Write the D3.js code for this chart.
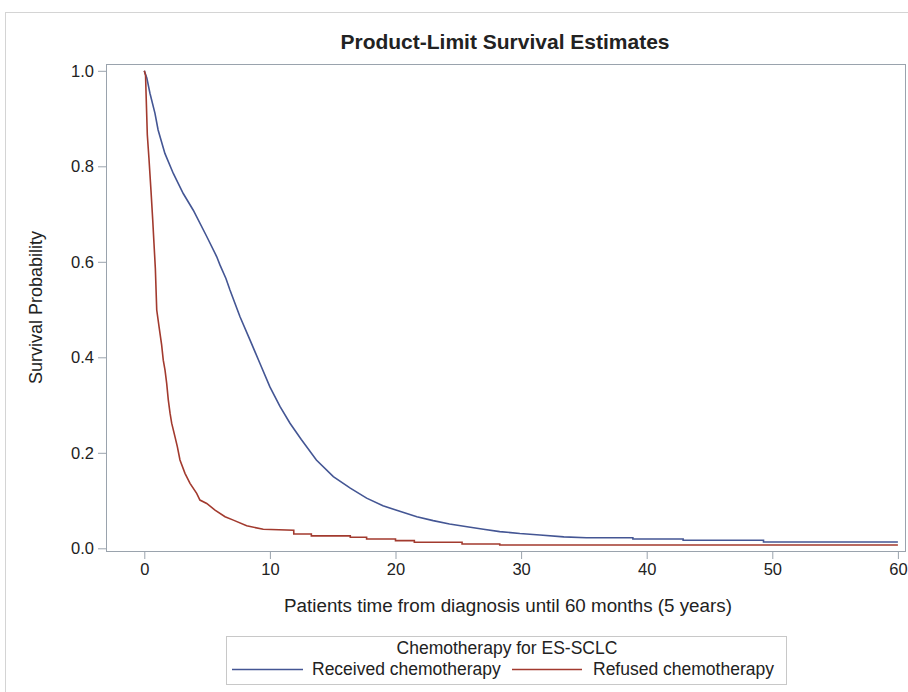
<!DOCTYPE html>
<html>
<head>
<meta charset="utf-8">
<script src="https://cdn.jsdelivr.net/npm/d3@7"></script>
<style>
  html, body { margin: 0; padding: 0; background: #fff; }
  svg { display: block; }
  text { font-family: "Liberation Sans", Arial, sans-serif; fill: #222; }
</style>
</head>
<body>
<svg id="chart" width="908" height="692"></svg>
<script>
// ---------- data ----------
const chartTitle = "Product-Limit Survival Estimates";
const xLabel = "Patients time from diagnosis until 60 months (5 years)";
const yLabel = "Survival Probability";
const legendTitle = "Chemotherapy for ES-SCLC";
const groups = ["Received chemotherapy", "Refused chemotherapy"];
const xTicks = [0, 10, 20, 30, 40, 50, 60];
const yTicks = [0.0, 0.2, 0.4, 0.6, 0.8, 1.0];

// Received chemotherapy (duplicate times mark visible steps)
const receivedTime = [0, 0.2, 0.45, 0.85, 1.1, 1.64, 2.31, 3.1, 3.9, 4.97, 5.76, 6.03, 6.5, 6.82, 7.62, 8.42, 9.21, 10.0, 10.8, 11.6, 12.5, 13.7, 15.05, 16.4, 17.7, 19.0, 20.4, 21.7, 23.0, 24.3, 25.7, 27.0, 28.3, 29.9, 31.5, 33.4, 35.2, 38.9, 38.9, 42.9, 42.9, 49.3, 49.3, 60];
const receivedSurv = [1.0, 0.985, 0.953, 0.911, 0.876, 0.827, 0.785, 0.743, 0.708, 0.653, 0.611, 0.593, 0.565, 0.541, 0.485, 0.436, 0.387, 0.338, 0.297, 0.262, 0.228, 0.185, 0.150, 0.126, 0.105, 0.089, 0.077, 0.066, 0.058, 0.051, 0.045, 0.040, 0.035, 0.031, 0.028, 0.024, 0.022, 0.022, 0.0195, 0.0195, 0.0168, 0.0168, 0.0132, 0.0132];

// Refused chemotherapy
const refusedTime = [0, 0.1, 0.14, 0.24, 0.37, 0.53, 0.67, 0.77, 0.88, 0.99, 1.19, 1.38, 1.51, 1.65, 1.78, 1.91, 2.05, 2.18, 2.44, 2.63, 2.84, 3.24, 3.64, 4.17, 4.43, 4.97, 5.63, 6.43, 7.09, 8.15, 9.47, 11.9, 11.9, 13.3, 13.3, 16.4, 16.4, 17.7, 17.7, 20.0, 20.0, 21.5, 21.5, 25.3, 25.3, 28.3, 28.3, 60];
const refusedSurv = [1.0, 0.99, 0.953, 0.866, 0.817, 0.750, 0.688, 0.639, 0.586, 0.499, 0.461, 0.426, 0.394, 0.373, 0.346, 0.311, 0.283, 0.262, 0.234, 0.213, 0.185, 0.157, 0.136, 0.115, 0.101, 0.094, 0.080, 0.066, 0.059, 0.047, 0.040, 0.038, 0.030, 0.030, 0.026, 0.026, 0.023, 0.023, 0.0195, 0.0195, 0.016, 0.016, 0.0126, 0.0126, 0.009, 0.009, 0.0068, 0.0068];

// ---------- layout ----------
const colors = ["#445694", "#A23A2E"];
const frame = { left: 106, top: 64, right: 905, bottom: 551 };
const svg = d3.select("#chart");

// outer graph border
svg.append("rect")
  .attr("x", 5.5).attr("y", 12.5).attr("width", 920).attr("height", 700)
  .attr("fill", "none").attr("stroke", "#d4d4d4").attr("stroke-width", 1);

const x = d3.scaleLinear().domain([0, 60]).range([144.3, 897.9]);
const y = d3.scaleLinear().domain([0, 1]).range([548.3, 70.8]);

// title
svg.append("text")
  .attr("x", 505).attr("y", 49)
  .attr("text-anchor", "middle")
  .style("font-weight", "bold").style("font-size", "21px")
  .text(chartTitle);

// axes
const axisColor = "#9aa3ad";
const gx = svg.append("g").attr("transform", `translate(0,${frame.bottom})`)
  .call(d3.axisBottom(x).tickValues(xTicks).tickFormat(d3.format("d")).tickSize(8).tickSizeOuter(0).tickPadding(4));
const gy = svg.append("g").attr("transform", `translate(${frame.left},0)`)
  .call(d3.axisLeft(y).tickValues(yTicks).tickFormat(d3.format(".1f")).tickSize(8).tickSizeOuter(0).tickPadding(4));
[gx, gy].forEach(g => {
  g.select(".domain").remove();
  g.selectAll(".tick line").attr("stroke", axisColor);
  g.selectAll(".tick text").style("font-size", "16.5px").attr("fill", "#222")
    .style("font-family", "'Liberation Sans', Arial, sans-serif");
});

// plot frame
svg.append("rect")
  .attr("x", frame.left + 0.5).attr("y", frame.top + 0.5)
  .attr("width", frame.right - frame.left).attr("height", frame.bottom - frame.top)
  .attr("fill", "none").attr("stroke", axisColor).attr("stroke-width", 1);

// axis labels
svg.append("text")
  .attr("x", 508).attr("y", 612)
  .attr("text-anchor", "middle").style("font-size", "18.8px")
  .text(xLabel);
svg.append("text")
  .attr("transform", `translate(42,${(frame.top + frame.bottom) / 2}) rotate(-90)`)
  .attr("text-anchor", "middle").style("font-size", "18px")
  .text(yLabel);

// curves
const series = [
  receivedTime.map((t, i) => [t, receivedSurv[i]]),
  refusedTime.map((t, i) => [t, refusedSurv[i]])
];
const line = d3.line().x(d => x(d[0])).y(d => y(d[1])).curve(d3.curveLinear);
series.forEach((s, i) => {
  svg.append("path").datum(s)
    .attr("d", line)
    .attr("fill", "none")
    .attr("stroke", colors[i])
    .attr("stroke-width", 1.6)
    .attr("stroke-linejoin", "miter");
});

// legend
const lg = svg.append("g");
lg.append("rect")
  .attr("x", 226.5).attr("y", 636.5).attr("width", 560).attr("height", 48)
  .attr("fill", "none").attr("stroke", "#c8c8c8");
lg.append("text")
  .attr("x", 507).attr("y", 654)
  .attr("text-anchor", "middle").style("font-size", "17.5px")
  .text(legendTitle);
const entryX = [[232, 303, 312], [512, 582, 593]];
groups.forEach((g, i) => {
  lg.append("line")
    .attr("x1", entryX[i][0]).attr("x2", entryX[i][1])
    .attr("y1", 669.5).attr("y2", 669.5)
    .attr("stroke", colors[i]).attr("stroke-width", 1.3);
  lg.append("text")
    .attr("x", entryX[i][2]).attr("y", 675)
    .style("font-size", "17.5px")
    .text(g);
});
</script>
</body>
</html>
